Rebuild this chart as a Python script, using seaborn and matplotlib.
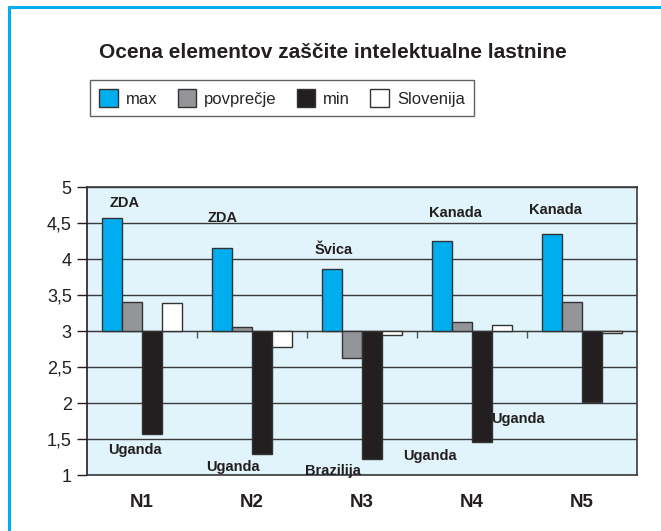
import matplotlib
matplotlib.use("Agg")
import matplotlib.pyplot as plt
from matplotlib.lines import Line2D
import pandas as pd
import numpy as np
import seaborn as sns

kategorije = ["N1", "N2", "N3", "N4", "N5"]
serije = ["max", "povprečje", "min", "Slovenija"]
max_vals = [4.57, 4.15, 3.86, 4.25, 4.35]
povp_vals = [3.40, 3.05, 2.62, 3.12, 3.40]
min_vals = [1.57, 1.29, 1.22, 1.46, 2.01]
slo_vals = [3.39, 2.78, 2.95, 3.08, 2.97]
barve = ["#00AEEF", "#939598", "#231F20", "#FFFFFF"]

# oznake drzav (zgoraj pri max, spodaj pri min)
zgoraj = ["ZDA", "ZDA", "Švica", "Kanada", "Kanada"]
zgoraj_x = [-0.16, 0.73, 1.74, 2.85, 3.76]
zgoraj_y = [4.78, 4.57, 4.12, 4.64, 4.68]
spodaj = ["Uganda", "Uganda", "Brazilija", "Uganda", "Uganda"]
spodaj_x = [-0.06, 0.83, 1.74, 2.62, 3.42]
spodaj_y = [1.35, 1.11, 1.06, 1.26, 1.78]

osnova = 3.0  # stolpci izhajajo iz vrednosti 3

df = pd.DataFrame({
    "kategorija": kategorije * 4,
    "serija": np.repeat(serije, 5),
    "vrednost": max_vals + povp_vals + min_vals + slo_vals,
})
df["razlika"] = df["vrednost"] - osnova

sns.set_style("white")
plt.rcParams["font.family"] = ["Liberation Sans", "DejaVu Sans"]

fig = plt.figure(figsize=(6.61, 5.31), dpi=100)
ax = fig.add_axes([87 / 661, 56 / 531, 550 / 661, 288 / 531])
ax.set_facecolor("#E1F4FB")

sns.barplot(data=df, x="kategorija", y="razlika", hue="serija",
            hue_order=serije, palette=barve, saturation=1, width=0.727,
            gap=0, errorbar=None, edgecolor="#333333", linewidth=1, ax=ax)

ticks = np.arange(1, 5.01, 0.5)
ax.set_ylim(1 - osnova, 5 - osnova)
ax.set_xlim(-0.5, 4.5)
ax.set_yticks(ticks - osnova)
ax.set_yticklabels([("%g" % v).replace(".", ",") for v in ticks],
                   fontsize=13, color="#231F20")
ax.yaxis.grid(True, color="#3a3a3a", linewidth=1)
ax.set_axisbelow(True)
ax.tick_params(axis="y", direction="out", length=7, width=1, left=True,
               color="#231F20", pad=4)
ax.set_xticks(range(5))
ax.set_xticklabels(kategorije, fontsize=13.5, fontweight="bold", color="#231F20")
ax.tick_params(axis="x", length=0, pad=14)
ax.set_xlabel("")
ax.set_ylabel("")
for s in ax.spines.values():
    s.set_color("#3a3a3a")
    s.set_linewidth(1.2)
    s.set_visible(True)
ax.spines["left"].set_color("#231F20")

# os pri vrednosti 3 z oznakami med kategorijami
sec = ax.secondary_xaxis(0.5)
sec.set_xticks([0.5, 1.5, 2.5, 3.5])
sec.set_xticklabels([])
sec.tick_params(direction="in", length=5, width=1, color="#555555")
sec.spines["bottom"].set_color("#231F20")
sec.spines["bottom"].set_linewidth(1.2)

for t, x, y in zip(zgoraj, zgoraj_x, zgoraj_y):
    ax.text(x, y - osnova, t, ha="center", va="center", fontsize=10.5,
            fontweight="bold", color="#231F20")
for t, x, y in zip(spodaj, spodaj_x, spodaj_y):
    ax.text(x, y - osnova, t, ha="center", va="center", fontsize=10.5,
            fontweight="bold", color="#231F20")

h, l = ax.get_legend_handles_labels()
ax.get_legend().remove()
leg = fig.legend(h, l, loc="center", bbox_to_anchor=(282 / 661, 1 - 98 / 531),
                 ncol=4, fontsize=12, frameon=True, fancybox=False,
                 edgecolor="#3a3a3a", handlelength=1.1, handleheight=1.3,
                 columnspacing=1.2, handletextpad=0.5, borderpad=0.55,
                 borderaxespad=0)
leg.get_frame().set_linewidth(1)

fig.text(333 / 661, 1 - 52 / 531, "Ocena elementov zaščite intelektualne lastnine",
         ha="center", va="center", fontsize=15, fontweight="bold",
         color="#231F20")

# modri okvir slike
fig.add_artist(Line2D([9 / 661, 1], [1 - 7 / 531, 1 - 7 / 531],
                      color="#00AEEF", linewidth=2.2, transform=fig.transFigure))
fig.add_artist(Line2D([9 / 661, 9 / 661], [0, 1 - 7 / 531],
                      color="#00AEEF", linewidth=2.2, transform=fig.transFigure))

fig.savefig("out.png", dpi=100)
